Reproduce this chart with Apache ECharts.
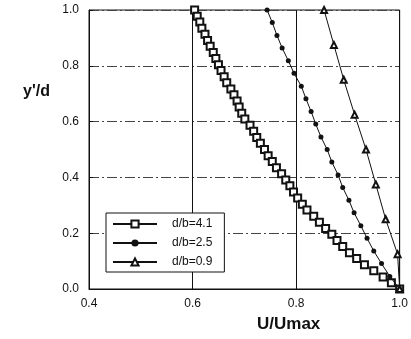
<!DOCTYPE html>
<html>
<head>
<meta charset="utf-8">
<script src="https://cdn.jsdelivr.net/npm/echarts@6/dist/echarts.min.js"></script>
<style>
html,body{margin:0;padding:0;background:#fff;}
#c{width:411px;height:339px;}
</style>
</head>
<body>
<div id="c"></div>
<script>
// ---- data ----
const seriesNames = ['d/b=4.1', 'd/b=2.5', 'd/b=0.9'];

// d/b=4.1 (open squares)
const sqY = [1.000,0.978,0.957,0.935,0.913,0.891,0.870,0.848,0.826,0.804,0.783,0.761,0.739,0.717,0.696,0.674,0.652,0.630,0.609,0.587,0.565,0.543,0.522,0.500,0.478,0.457,0.435,0.413,0.391,0.370,0.348,0.326,0.304,0.283,0.261,0.239,0.217,0.196,0.174,0.152,0.130,0.109,0.087,0.065,0.043,0.022,0.000];
const sqX = [0.604,0.609,0.614,0.618,0.624,0.629,0.634,0.640,0.645,0.650,0.655,0.661,0.666,0.674,0.680,0.686,0.690,0.695,0.701,0.711,0.718,0.724,0.731,0.739,0.746,0.754,0.762,0.772,0.780,0.788,0.795,0.803,0.812,0.821,0.834,0.845,0.857,0.869,0.879,0.890,0.903,0.917,0.932,0.950,0.968,0.984,1.000];

// d/b=2.5 (filled circles)
const ciY = [1.000,0.955,0.909,0.864,0.818,0.773,0.727,0.682,0.636,0.591,0.545,0.500,0.455,0.409,0.364,0.318,0.273,0.227,0.182,0.136,0.091,0.045,0.000];
const ciX = [0.744,0.754,0.763,0.773,0.785,0.796,0.810,0.819,0.829,0.838,0.848,0.860,0.869,0.881,0.890,0.902,0.912,0.925,0.937,0.950,0.965,0.981,1.000];

// d/b=0.9 (open triangles)
const trY = [1.000,0.875,0.750,0.625,0.500,0.375,0.250,0.125,0.000];
const trX = [0.854,0.873,0.892,0.913,0.935,0.954,0.973,0.996,1.000];

const xTicks = [0.4, 0.6, 0.8, 1.0];
const yTicks = [0.0, 0.2, 0.4, 0.6, 0.8, 1.0];

const pairs = (xs, ys) => xs.map((x, i) => [x, ys[i]]);
const INK = '#111';
const FONT = 'Liberation Sans, Arial, sans-serif';

const chart = echarts.init(document.getElementById('c'), null, {renderer: 'canvas'});
chart.setOption({
  animation: false,
  backgroundColor: '#fff',
  grid: {left: 89, right: 11, top: 10, bottom: 50, show: true, borderColor: INK, borderWidth: 1, backgroundColor: 'transparent'},
  xAxis: {
    type: 'value', min: xTicks[0], max: xTicks[xTicks.length - 1], interval: 0.2,
    axisLine: {lineStyle: {color: INK, width: 1}},
    axisTick: {inside: true, length: 4, lineStyle: {color: INK}},
    axisLabel: {color: INK, fontFamily: FONT, fontSize: 12, margin: 9, formatter: v => v.toFixed(1)},
    splitLine: {show: true, lineStyle: {color: INK, width: 1}}
  },
  yAxis: {
    type: 'value', min: yTicks[0], max: yTicks[yTicks.length - 1], interval: 0.2,
    axisLine: {show: true, lineStyle: {color: INK, width: 1}},
    axisTick: {show: true, inside: true, length: 4, lineStyle: {color: INK}},
    axisLabel: {color: INK, fontFamily: FONT, fontSize: 12, margin: 10, formatter: v => v.toFixed(1)},
    splitLine: {show: true, lineStyle: {color: '#444', width: 1, type: [10, 3, 2, 3]}}
  },
  legend: {
    orient: 'vertical', left: 106, top: 213,
    backgroundColor: '#fff', borderColor: INK, borderWidth: 1,
    padding: [5, 12, 4, 6], itemGap: 7, itemWidth: 44, itemHeight: 9,
    textStyle: {color: INK, fontFamily: FONT, fontSize: 12, padding: [0, 0, 0, 10]},
    data: seriesNames
  },
  graphic: [
    {type: 'text', left: 23, top: 84, style: {text: "y'/d", fill: INK, font: 'bold 16px ' + FONT}},
    {type: 'text', left: 257, top: 316, style: {text: 'U/Umax', fill: INK, font: 'bold 17px ' + FONT}}
  ],
  series: [
    {name: seriesNames[0], type: 'line', data: pairs(sqX, sqY), symbol: 'emptyRect', symbolSize: 7,
     color: INK, lineStyle: {color: INK, width: 1}, itemStyle: {borderWidth: 1}, z: 3},
    {name: seriesNames[1], type: 'line', data: pairs(ciX, ciY), symbol: 'circle', symbolSize: 5,
     color: INK, lineStyle: {color: INK, width: 1}, z: 4},
    {name: seriesNames[2], type: 'line', data: pairs(trX, trY), symbol: 'emptyTriangle', symbolSize: 6,
     color: INK, lineStyle: {color: INK, width: 1}, itemStyle: {borderWidth: 1}, z: 5}
  ]
});
</script>
</body>
</html>
